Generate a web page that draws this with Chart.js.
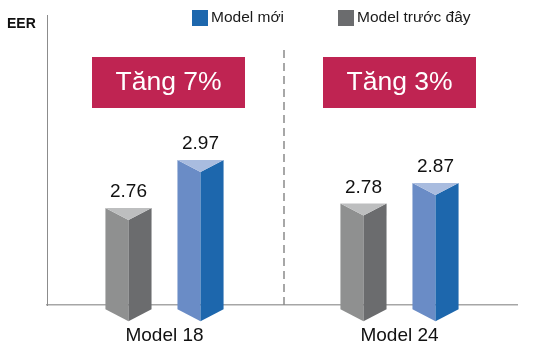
<!DOCTYPE html>
<html>
<head>
<meta charset="utf-8">
<script src="https://cdn.jsdelivr.net/npm/chart.js@4.4.1/dist/chart.umd.min.js"></script>
<style>
  html, body { margin: 0; padding: 0; background: #ffffff; }
  #wrap { width: 535px; height: 353px; }
</style>
</head>
<body>
<div id="wrap"><canvas id="c" width="535" height="353"></canvas></div>
<script>
const categories = ['Model 18', 'Model 24'];
const previousModel = [2.76, 2.78];
const newModel = [2.97, 2.87];
const increaseLabels = ['Tăng 7%', 'Tăng 3%'];
const seriesNames = ['Model trước đây', 'Model mới'];
const axisTitle = 'EER';

const FONT = '"Liberation Sans", Arial, sans-serif';

const faceColors = [
  { left: '#8f9090', right: '#6b6c6e', top: '#bdbebf' },
  { left: '#6a8cc6', right: '#1d67ad', top: '#a9bcdf' }
];

const prismPlugin = {
  id: 'prism',
  afterDatasetsDraw(chart) {
    const ctx = chart.ctx;
    const yScale = chart.scales.y;
    const basePx = yScale.getPixelForValue(yScale.min);
    const d = 12;
    chart.data.datasets.forEach((ds, di) => {
      const meta = chart.getDatasetMeta(di);
      const col = faceColors[di];
      meta.data.forEach((el, i) => {
        const p = el.getProps(['x', 'y', 'width'], true);
        const L = p.x - p.width / 2, R = p.x + p.width / 2, C = p.x;
        const top = p.y, bot = basePx + 4;
        ctx.save();
        ctx.fillStyle = col.left;
        ctx.beginPath();
        ctx.moveTo(L, top); ctx.lineTo(C, top + d); ctx.lineTo(C, bot + d); ctx.lineTo(L, bot);
        ctx.closePath(); ctx.fill();
        ctx.fillStyle = col.right;
        ctx.beginPath();
        ctx.moveTo(C, top + d); ctx.lineTo(R, top); ctx.lineTo(R, bot); ctx.lineTo(C, bot + d);
        ctx.closePath(); ctx.fill();
        ctx.fillStyle = col.top;
        ctx.beginPath();
        ctx.moveTo(L, top); ctx.lineTo(R, top); ctx.lineTo(C, top + d);
        ctx.closePath(); ctx.fill();
        ctx.fillStyle = '#111111';
        ctx.font = '19px ' + FONT;
        ctx.textAlign = 'center';
        ctx.textBaseline = 'alphabetic';
        ctx.fillText(ds.data[i].toFixed(2), C, top - 11);
        ctx.restore();
      });
    });
  }
};

const decorPlugin = {
  id: 'decor',
  beforeDatasetsDraw(chart) {
    const ctx = chart.ctx;
    const x = chart.scales.x;
    const area = chart.chartArea;
    const sepX = (x.getPixelForValue(0) + x.getPixelForValue(1)) / 2 + 2;
    ctx.save();
    ctx.strokeStyle = '#8a8a8a';
    ctx.lineWidth = 1.5;
    ctx.setLineDash([8, 5]);
    ctx.beginPath();
    ctx.moveTo(sepX, 50); ctx.lineTo(sepX, area.bottom);
    ctx.stroke();
    ctx.restore();
  },
  afterDraw(chart) {
    const ctx = chart.ctx;
    const x = chart.scales.x;
    ctx.save();
    increaseLabels.forEach((t, i) => {
      const cx = x.getPixelForValue(i) + (i === 0 ? 4 : 0);
      const w = 153, y0 = 57, h = 51;
      ctx.fillStyle = '#bf2452';
      ctx.fillRect(cx - w / 2, y0, w, h);
      ctx.fillStyle = '#ffffff';
      ctx.font = '26.5px ' + FONT;
      ctx.textAlign = 'center';
      ctx.textBaseline = 'middle';
      ctx.fillText(t, cx, y0 + h / 2 + 0.5);
    });
    const legendItems = [
      { name: seriesNames[1], color: '#1d67ad', x: 192 },
      { name: seriesNames[0], color: '#6b6c6e', x: 338 }
    ];
    legendItems.forEach(it => {
      ctx.fillStyle = it.color;
      ctx.fillRect(it.x, 10, 16, 16);
      ctx.fillStyle = '#1a1a1a';
      ctx.font = '15.5px ' + FONT;
      ctx.textAlign = 'left';
      ctx.textBaseline = 'middle';
      ctx.fillText(it.name, it.x + 19, 18);
    });
    ctx.fillStyle = '#111111';
    ctx.font = 'bold 14px ' + FONT;
    ctx.textAlign = 'left';
    ctx.textBaseline = 'middle';
    ctx.fillText(axisTitle, 7, 24);
    ctx.restore();
  }
};

new Chart(document.getElementById('c'), {
  type: 'bar',
  data: {
    labels: categories,
    datasets: [
      { label: seriesNames[0], data: previousModel, backgroundColor: 'rgba(0,0,0,0)', borderWidth: 0,
        categoryPercentage: 0.613, barPercentage: 0.64 },
      { label: seriesNames[1], data: newModel, backgroundColor: 'rgba(0,0,0,0)', borderWidth: 0,
        categoryPercentage: 0.613, barPercentage: 0.64 }
    ]
  },
  options: {
    responsive: false,
    animation: false,
    devicePixelRatio: 1,
    layout: { padding: { left: 47, right: 18, top: 15, bottom: -13 } },
    plugins: {
      legend: { display: false },
      tooltip: { enabled: false }
    },
    scales: {
      x: {
        grid: { display: false, drawTicks: false },
        border: { display: true, color: '#a6a6a6', width: 1.5 },
        ticks: { color: '#111111', font: { family: FONT, size: 19 }, padding: 19 }
      },
      y: {
        min: 2.335,
        max: 3.605,
        grid: { display: false, drawTicks: false },
        border: { display: true, color: '#8c8c8c', width: 1 },
        ticks: { display: false }
      }
    }
  },
  plugins: [decorPlugin, prismPlugin]
});
</script>
</body>
</html>
